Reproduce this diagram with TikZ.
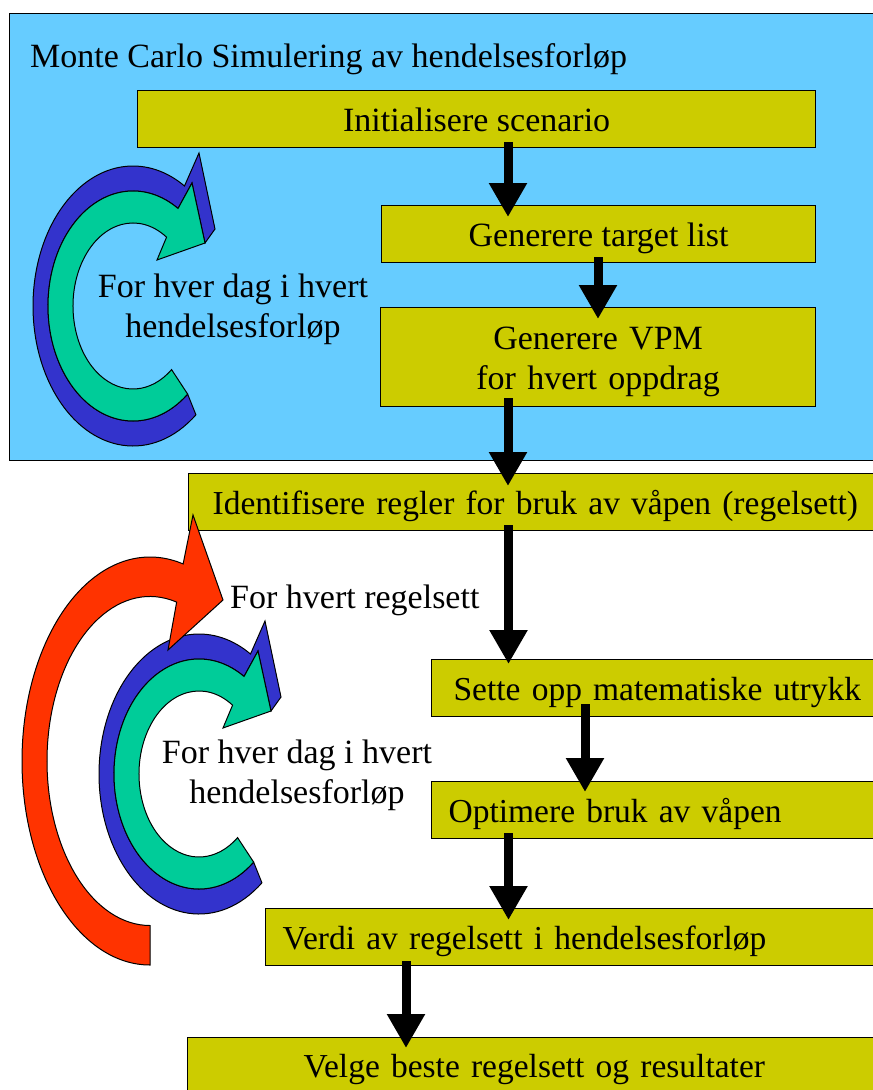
\documentclass[tikz,border=0pt]{standalone}
\usepackage{fontspec}
\setmainfont{Liberation Serif}
\usetikzlibrary{arrows.meta}

\definecolor{panelblue}{RGB}{102,204,255}
\definecolor{boxfill}{RGB}{204,204,0}
\definecolor{loopblue}{RGB}{51,51,204}
\definecolor{loopgreen}{RGB}{0,204,153}
\definecolor{loopred}{RGB}{255,51,0}

\newcommand\diagfont{\fontsize{34pt}{40pt}\selectfont}
\newcommand\stepfont{\fontsize{33.5pt}{40pt}\selectfont}

\tikzset{
  % one "per day" loop: blue back layer and green front layer, centred on the ellipse centre
  dayloop/.pic={
    \filldraw[loopedge, fill=loopblue]
      (50:85 and 115) -- (51:100 and 140)
      arc[start angle=51, end angle=301, x radius=100, y radius=140]
      -- (66,-153) -- (82,-77) -- (72,-63) -- (59,-123)
      -- (302:85 and 115)
      arc[start angle=302, end angle=50, x radius=85, y radius=115] -- cycle;
    \filldraw[loopedge, fill=loopgreen]
      (50:85 and 115)
      arc[start angle=50, end angle=302, x radius=85, y radius=115]
      -- (59,-123) -- (72,-63) -- (24,-46)
      -- (304:60 and 83)
      arc[start angle=304, end angle=50, x radius=60, y radius=83] -- cycle;
  }
}

\begin{document}
\begin{tikzpicture}[x=1pt, y=-1pt,
  font=\diagfont,
  loopedge/.style={draw=black, line width=1pt, line join=miter},
  box/.style={draw=black, line width=1.2pt, fill=boxfill, anchor=north west,
    inner ysep=0pt, minimum height=57pt, text height=27pt, text depth=3pt},
  leftbox/.style={box, align=left, font=\stepfont},
  flow/.style={line width=9pt, -{Triangle[width=36pt, length=34pt]}},
  plain/.style={inner sep=0pt}
]
\useasboundingbox (0,0) rectangle (873,1090);

% simulation panel
\node[draw=black, line width=1.2pt, fill=panelblue, anchor=north west,
      minimum width=891pt, minimum height=447pt, inner sep=0pt] (panel) at (9,13) {};
\node[plain, anchor=base west] (paneltitle) at (30,67) {Monte Carlo Simulering av hendelsesforløp};

% process steps
\node[box, minimum width=678pt] (init) at (137,90) {Initialisere scenario};
\node[box, minimum width=434pt] (targets) at (381,205) {Generere target list};
\node[box, minimum width=435pt, minimum height=99pt, text width=415pt, align=center,
      text height=27pt, text depth=43pt] (vpm) at (380,307) {Generere VPM\\for hvert oppdrag};
\node[leftbox, minimum width=712pt, text width=664pt, inner xsep=24pt] (rules) at (188,473)
  {Identifisere regler for bruk av våpen (regelsett)};
\node[leftbox, minimum width=469pt, text width=425pt, inner xsep=22pt] (math) at (431,659)
  {Sette opp matematiske utrykk};
\node[leftbox, minimum width=469pt, text width=435pt, inner xsep=17pt] (optim) at (431,781)
  {Optimere bruk av våpen};
\node[leftbox, minimum width=635pt, text width=601pt, inner xsep=17pt] (value) at (265,908)
  {Verdi av regelsett i hendelsesforløp};
\node[leftbox, minimum width=713pt, text width=481pt, inner xsep=116pt, minimum height=70pt,
      text height=27pt, text depth=17pt] (best) at (187,1037)
  {Velge beste regelsett og resultater};

% flow between steps
\draw[flow] ([xshift=371pt, yshift=6pt]init.south west) -- ([xshift=127pt, yshift=-12pt]targets.north west);
\draw[flow] ([xshift=217pt, yshift=6pt]targets.south west) -- ([xshift=218pt, yshift=-12pt]vpm.north west);
\draw[flow] ([xshift=128pt, yshift=9pt]vpm.south west) -- ([xshift=320pt, yshift=-13pt]rules.north west);
\draw[flow] ([xshift=320.5pt, yshift=6pt]rules.south west) -- ([xshift=77.5pt, yshift=-5pt]math.north west);
\draw[flow] ([xshift=154pt, yshift=13pt]math.south west) -- ([xshift=154pt, yshift=-11pt]optim.north west);
\draw[flow] ([xshift=77.5pt, yshift=6pt]optim.south west) -- ([xshift=243.5pt, yshift=-12pt]value.north west);
\draw[flow] ([xshift=141pt, yshift=5pt]value.south west) -- ([xshift=219pt, yshift=-11pt]best.north west);

% iteration loops
\pic at (133,306) {dayloop};
\pic at (199,774) {dayloop};

\begin{scope}[shift={(150,761)}]
  \filldraw[loopedge, fill=loopred]
    (90:128 and 204)
    arc[start angle=90, end angle=285, x radius=128, y radius=204]
    -- (43,-246) -- (73,-161) -- (18,-111)
    -- (285:103 and 164.5)
    arc[start angle=285, end angle=90, x radius=103, y radius=164.5] -- cycle;
\end{scope}

% loop captions (base anchor sits on the last line)
\node[plain, align=center, anchor=base] (dayloopA) at (233,337) {For hver dag i hvert\\hendelsesforløp};
\node[plain, anchor=base west] (ruleloop) at (230,608) {For hvert regelsett};
\node[plain, align=center, anchor=base] (dayloopB) at (297,803) {For hver dag i hvert\\hendelsesforløp};
\end{tikzpicture}
\end{document}
